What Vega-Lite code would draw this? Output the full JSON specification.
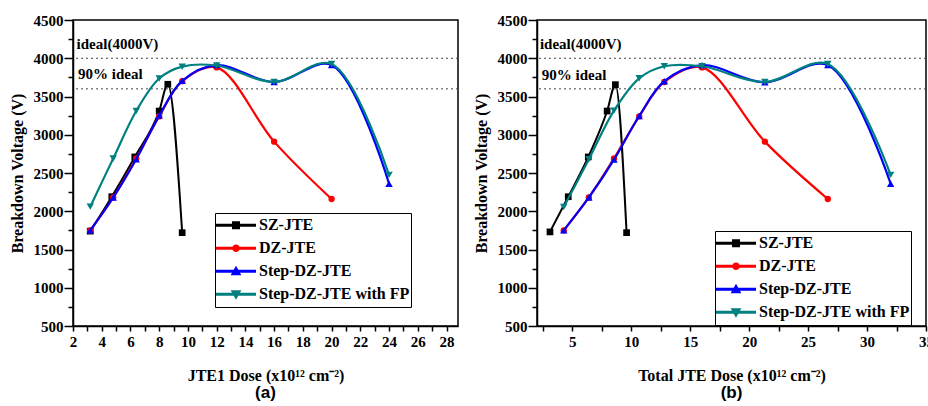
{
  "$schema": "https://vega.github.io/schema/vega-lite/v6.json",
  "padding": {"left": 8, "top": 12, "right": 0, "bottom": 0},
  "background": "white",
  "config": {
    "view": {"stroke": "black", "strokeWidth": 1.5},
    "font": "Liberation Serif",
    "axis": {
      "grid": false, "domainColor": "black", "tickColor": "black", "labelColor": "black", "titleColor": "black",
      "labelFont": "Liberation Serif", "titleFont": "Liberation Serif", "labelFontWeight": "bold", "titleFontWeight": "bold",
      "labelFontSize": 15, "titleFontSize": 16, "domainWidth": 1.5, "tickWidth": 1.5, "format": "d", "labelOverlap": false
    }
  },
  "datasets": {
    "a": [
      {"series": "SZ-JTE", "x": 3.2, "v": 1740}, {"series": "SZ-JTE", "x": 4.7, "v": 2190}, {"series": "SZ-JTE", "x": 6.3, "v": 2710},
      {"series": "SZ-JTE", "x": 8.0, "v": 3310}, {"series": "SZ-JTE", "x": 8.6, "v": 3660}, {"series": "SZ-JTE", "x": 9.6, "v": 1720},
      {"series": "DZ-JTE", "x": 3.2, "v": 1750}, {"series": "DZ-JTE", "x": 4.8, "v": 2180}, {"series": "DZ-JTE", "x": 6.4, "v": 2690},
      {"series": "DZ-JTE", "x": 8.0, "v": 3240}, {"series": "DZ-JTE", "x": 9.6, "v": 3700}, {"series": "DZ-JTE", "x": 12, "v": 3880},
      {"series": "DZ-JTE", "x": 16, "v": 2910}, {"series": "DZ-JTE", "x": 20, "v": 2160},
      {"series": "Step-DZ-JTE", "x": 3.2, "v": 1750}, {"series": "Step-DZ-JTE", "x": 4.8, "v": 2180}, {"series": "Step-DZ-JTE", "x": 6.4, "v": 2680},
      {"series": "Step-DZ-JTE", "x": 8.0, "v": 3250}, {"series": "Step-DZ-JTE", "x": 9.6, "v": 3705}, {"series": "Step-DZ-JTE", "x": 12, "v": 3910},
      {"series": "Step-DZ-JTE", "x": 16, "v": 3690}, {"series": "Step-DZ-JTE", "x": 20, "v": 3910}, {"series": "Step-DZ-JTE", "x": 24, "v": 2360},
      {"series": "Step-DZ-JTE with FP", "x": 3.2, "v": 2060}, {"series": "Step-DZ-JTE with FP", "x": 4.8, "v": 2690}, {"series": "Step-DZ-JTE with FP", "x": 6.4, "v": 3310},
      {"series": "Step-DZ-JTE with FP", "x": 8.0, "v": 3735}, {"series": "Step-DZ-JTE with FP", "x": 9.6, "v": 3890}, {"series": "Step-DZ-JTE with FP", "x": 12, "v": 3905},
      {"series": "Step-DZ-JTE with FP", "x": 16, "v": 3690}, {"series": "Step-DZ-JTE with FP", "x": 20, "v": 3925}, {"series": "Step-DZ-JTE with FP", "x": 24, "v": 2475}
    ],
    "b": [
      {"series": "SZ-JTE", "x": 3.1, "v": 1730}, {"series": "SZ-JTE", "x": 4.65, "v": 2190}, {"series": "SZ-JTE", "x": 6.35, "v": 2710},
      {"series": "SZ-JTE", "x": 7.95, "v": 3310}, {"series": "SZ-JTE", "x": 8.65, "v": 3655}, {"series": "SZ-JTE", "x": 9.6, "v": 1720},
      {"series": "DZ-JTE", "x": 4.27, "v": 1750}, {"series": "DZ-JTE", "x": 6.4, "v": 2180}, {"series": "DZ-JTE", "x": 8.53, "v": 2690},
      {"series": "DZ-JTE", "x": 10.67, "v": 3240}, {"series": "DZ-JTE", "x": 12.8, "v": 3690}, {"series": "DZ-JTE", "x": 16, "v": 3880},
      {"series": "DZ-JTE", "x": 21.33, "v": 2910}, {"series": "DZ-JTE", "x": 26.67, "v": 2160},
      {"series": "Step-DZ-JTE", "x": 4.27, "v": 1750}, {"series": "Step-DZ-JTE", "x": 6.4, "v": 2180}, {"series": "Step-DZ-JTE", "x": 8.53, "v": 2675},
      {"series": "Step-DZ-JTE", "x": 10.67, "v": 3245}, {"series": "Step-DZ-JTE", "x": 12.8, "v": 3700}, {"series": "Step-DZ-JTE", "x": 16, "v": 3910},
      {"series": "Step-DZ-JTE", "x": 21.33, "v": 3685}, {"series": "Step-DZ-JTE", "x": 26.67, "v": 3910}, {"series": "Step-DZ-JTE", "x": 32, "v": 2360},
      {"series": "Step-DZ-JTE with FP", "x": 4.27, "v": 2055}, {"series": "Step-DZ-JTE with FP", "x": 6.4, "v": 2680}, {"series": "Step-DZ-JTE with FP", "x": 8.53, "v": 3315},
      {"series": "Step-DZ-JTE with FP", "x": 10.67, "v": 3738}, {"series": "Step-DZ-JTE with FP", "x": 12.8, "v": 3895}, {"series": "Step-DZ-JTE with FP", "x": 16, "v": 3895},
      {"series": "Step-DZ-JTE with FP", "x": 21.33, "v": 3690}, {"series": "Step-DZ-JTE with FP", "x": 26.67, "v": 3925}, {"series": "Step-DZ-JTE with FP", "x": 32, "v": 2475}
    ],
    "refs": [{"v": 4000}, {"v": 3600}],
    "notesA": [{"x": 2.25, "v": 4190, "label": "ideal(4000V)"}, {"x": 2.35, "v": 3790, "label": "90% ideal"}],
    "notesB": [{"x": 2.25, "v": 4180, "label": "ideal(4000V)"}, {"x": 2.4, "v": 3785, "label": "90% ideal"}]
  },
  "spacing": 12,
  "resolve": {"scale": {"x": "independent", "y": "independent", "color": "independent", "shape": "independent"}},
  "hconcat": [
    {
      "width": 385, "height": 306,
      "title": {"text": "(a)", "orient": "bottom", "font": "Liberation Sans", "fontSize": 17, "fontWeight": "bold", "color": "black", "offset": 2, "anchor": "middle"},
      "layer": [
        {"data": {"name": "refs"}, "mark": {"type": "rule", "strokeDash": [2, 3], "color": "#444", "strokeWidth": 1},
         "encoding": {"y": {"field": "v", "type": "quantitative", "scale": {"domain": [500, 4500], "nice": false, "zero": false},
              "axis": {"title": "Breakdown Voltage (V)", "values": [500,750,1000,1250,1500,1750,2000,2250,2500,2750,3000,3250,3500,3750,4000,4250,4500], "labelExpr": "datum.value % 500 === 0 ? datum.label : ''", "labelOverlap": false, "tickSize": {"condition": {"test": "datum.value % 500 === 0", "value": 9}, "value": 5}, "labelPadding": 1, "titlePadding": 8, "labelFlush": false}}}},
        {
          "encoding": {
            "x": {"field": "x", "type": "quantitative", "scale": {"domain": [2, 28.8], "nice": false, "zero": false},
                  "axis": {"title": "JTE1 Dose (x10¹² cm⁻²)", "values": [2,3,4,5,6,7,8,9,10,11,12,13,14,15,16,17,18,19,20,21,22,23,24,25,26,27,28], "labelExpr": "datum.value % 2 === 0 ? datum.label : ''", "labelOverlap": false, "tickSize": 5, "labelPadding": 3, "titlePadding": 18, "labelFlush": false}},
            "y": {"field": "v", "type": "quantitative", "scale": {"domain": [500, 4500], "nice": false, "zero": false},
                  "axis": {"title": "Breakdown Voltage (V)", "values": [500,750,1000,1250,1500,1750,2000,2250,2500,2750,3000,3250,3500,3750,4000,4250,4500], "labelExpr": "datum.value % 500 === 0 ? datum.label : ''", "labelOverlap": false, "tickSize": {"condition": {"test": "datum.value % 500 === 0", "value": 9}, "value": 5}, "labelPadding": 1, "titlePadding": 8, "labelFlush": false}}
          },
          "layer": [
            {"data": {"name": "notesA"}, "mark": {"type": "text", "align": "left", "baseline": "middle", "font": "Liberation Serif", "fontWeight": "bold", "fontSize": 15, "color": "black"},
             "encoding": {"text": {"field": "label"}}},
            {"data": {"name": "a"}, "transform": [{"filter": "datum.series === 'SZ-JTE'"}],
             "mark": {"type": "line", "interpolate": "monotone", "strokeWidth": 2, "color": "#000000"}, "encoding": {}},
            {"data": {"name": "a"}, "transform": [{"filter": "datum.series === 'SZ-JTE'"}],
             "mark": {"type": "point", "shape": "square", "filled": true, "opacity": 1, "size": 45, "color": "#000000"}, "encoding": {}},
            {"data": {"name": "a"}, "transform": [{"filter": "datum.series === 'DZ-JTE'"}],
             "mark": {"type": "line", "interpolate": "catmull-rom", "strokeWidth": 2.2, "color": "#ff0000"}, "encoding": {}},
            {"data": {"name": "a"}, "transform": [{"filter": "datum.series === 'DZ-JTE'"}],
             "mark": {"type": "point", "shape": "circle", "filled": true, "opacity": 1, "size": 40, "color": "#ff0000"}, "encoding": {}},
            {"data": {"name": "a"}, "transform": [{"filter": "datum.series === 'Step-DZ-JTE'"}],
             "mark": {"type": "line", "interpolate": "catmull-rom", "strokeWidth": 2.2, "color": "#0000ff"}, "encoding": {}},
            {"data": {"name": "a"}, "transform": [{"filter": "datum.series === 'Step-DZ-JTE'"}],
             "mark": {"type": "point", "shape": "triangle-up", "filled": true, "opacity": 1, "size": 55, "color": "#0000ff"}, "encoding": {}},
            {"data": {"name": "a"}, "transform": [{"filter": "datum.series === 'Step-DZ-JTE with FP'"}],
             "mark": {"type": "line", "interpolate": "catmull-rom", "strokeWidth": 2.2, "color": "#008080"}, "encoding": {}},
            {"data": {"name": "a"}, "transform": [{"filter": "datum.series === 'Step-DZ-JTE with FP'"}],
             "mark": {"type": "point", "shape": "triangle-down", "filled": true, "opacity": 1, "size": 55, "color": "#008080"}, "encoding": {}},
            {"data": {"name": "a"}, "transform": [{"filter": "datum.v < 0"}],
             "mark": {"type": "point", "filled": true, "opacity": 1},
             "encoding": {
               "color": {"field": "series", "type": "nominal", "scale": {"domain": ["SZ-JTE", "DZ-JTE", "Step-DZ-JTE", "Step-DZ-JTE with FP"], "range": ["#000000", "#ff0000", "#0000ff", "#008080"]},
                         "legend": {"title": null, "orient": "none", "legendX": 142, "legendY": 193, "strokeColor": "black", "fillColor": "white", "padding": 1,
                                    "labelFont": "Liberation Serif", "labelFontWeight": "bold", "labelFontSize": 16, "labelColor": "black", "labelOffset": 3,
                                    "symbolSize": 1600, "clipHeight": 22.5, "rowPadding": 0, "symbolStrokeWidth": 0}},
               "shape": {"field": "series", "type": "nominal", "scale": {"domain": ["SZ-JTE", "DZ-JTE", "Step-DZ-JTE", "Step-DZ-JTE with FP"], "range": ["M-1,-0.07H1V0.07H-1ZM-0.2,-0.2H0.2V0.2H-0.2Z", "M-1,-0.07H1V0.07H-1ZM-0.19,0A0.19,0.19,0,1,1,0.19,0A0.19,0.19,0,1,1,-0.19,0Z", "M-1,-0.07H1V0.07H-1ZM0,-0.27L0.27,0.2L-0.27,0.2Z", "M-1,-0.07H1V0.07H-1ZM0,0.27L-0.27,-0.2L0.27,-0.2Z"]},
                         "legend": {"title": null, "orient": "none", "legendX": 142, "legendY": 193, "strokeColor": "black", "fillColor": "white", "padding": 1,
                                    "labelFont": "Liberation Serif", "labelFontWeight": "bold", "labelFontSize": 16, "labelColor": "black", "labelOffset": 3,
                                    "symbolSize": 1600, "clipHeight": 22.5, "rowPadding": 0, "symbolStrokeWidth": 0}}
             }}
          ]
        }
      ]
    },
    {
      "width": 389, "height": 306,
      "title": {"text": "(b)", "orient": "bottom", "font": "Liberation Sans", "fontSize": 17, "fontWeight": "bold", "color": "black", "offset": 2, "anchor": "middle"},
      "layer": [
        {"data": {"name": "refs"}, "mark": {"type": "rule", "strokeDash": [2, 3], "color": "#444", "strokeWidth": 1},
         "encoding": {"y": {"field": "v", "type": "quantitative", "scale": {"domain": [500, 4500], "nice": false, "zero": false},
              "axis": {"title": "Breakdown Voltage (V)", "values": [500,750,1000,1250,1500,1750,2000,2250,2500,2750,3000,3250,3500,3750,4000,4250,4500], "labelExpr": "datum.value % 500 === 0 ? datum.label : ''", "labelOverlap": false, "tickSize": {"condition": {"test": "datum.value % 500 === 0", "value": 9}, "value": 5}, "labelPadding": 1, "titlePadding": 8, "labelFlush": false}}}},
        {
          "encoding": {
            "x": {"field": "x", "type": "quantitative", "scale": {"domain": [2, 35], "nice": false, "zero": false},
                  "axis": {"title": "Total JTE Dose (x10¹² cm⁻²)", "values": [2.5,5,7.5,10,12.5,15,17.5,20,22.5,25,27.5,30,32.5,35], "labelExpr": "datum.value % 5 === 0 ? datum.label : ''", "labelOverlap": false, "tickSize": 5, "labelPadding": 3, "titlePadding": 18, "labelFlush": false}},
            "y": {"field": "v", "type": "quantitative", "scale": {"domain": [500, 4500], "nice": false, "zero": false},
                  "axis": {"title": "Breakdown Voltage (V)", "values": [500,750,1000,1250,1500,1750,2000,2250,2500,2750,3000,3250,3500,3750,4000,4250,4500], "labelExpr": "datum.value % 500 === 0 ? datum.label : ''", "labelOverlap": false, "tickSize": {"condition": {"test": "datum.value % 500 === 0", "value": 9}, "value": 5}, "labelPadding": 1, "titlePadding": 8, "labelFlush": false}}
          },
          "layer": [
            {"data": {"name": "notesB"}, "mark": {"type": "text", "align": "left", "baseline": "middle", "font": "Liberation Serif", "fontWeight": "bold", "fontSize": 15, "color": "black"},
             "encoding": {"text": {"field": "label"}}},
            {"data": {"name": "b"}, "transform": [{"filter": "datum.series === 'SZ-JTE'"}],
             "mark": {"type": "line", "interpolate": "monotone", "strokeWidth": 2, "color": "#000000"}, "encoding": {}},
            {"data": {"name": "b"}, "transform": [{"filter": "datum.series === 'SZ-JTE'"}],
             "mark": {"type": "point", "shape": "square", "filled": true, "opacity": 1, "size": 45, "color": "#000000"}, "encoding": {}},
            {"data": {"name": "b"}, "transform": [{"filter": "datum.series === 'DZ-JTE'"}],
             "mark": {"type": "line", "interpolate": "catmull-rom", "strokeWidth": 2.2, "color": "#ff0000"}, "encoding": {}},
            {"data": {"name": "b"}, "transform": [{"filter": "datum.series === 'DZ-JTE'"}],
             "mark": {"type": "point", "shape": "circle", "filled": true, "opacity": 1, "size": 40, "color": "#ff0000"}, "encoding": {}},
            {"data": {"name": "b"}, "transform": [{"filter": "datum.series === 'Step-DZ-JTE'"}],
             "mark": {"type": "line", "interpolate": "catmull-rom", "strokeWidth": 2.2, "color": "#0000ff"}, "encoding": {}},
            {"data": {"name": "b"}, "transform": [{"filter": "datum.series === 'Step-DZ-JTE'"}],
             "mark": {"type": "point", "shape": "triangle-up", "filled": true, "opacity": 1, "size": 55, "color": "#0000ff"}, "encoding": {}},
            {"data": {"name": "b"}, "transform": [{"filter": "datum.series === 'Step-DZ-JTE with FP'"}],
             "mark": {"type": "line", "interpolate": "catmull-rom", "strokeWidth": 2.2, "color": "#008080"}, "encoding": {}},
            {"data": {"name": "b"}, "transform": [{"filter": "datum.series === 'Step-DZ-JTE with FP'"}],
             "mark": {"type": "point", "shape": "triangle-down", "filled": true, "opacity": 1, "size": 55, "color": "#008080"}, "encoding": {}},
            {"data": {"name": "b"}, "transform": [{"filter": "datum.v < 0"}],
             "mark": {"type": "point", "filled": true, "opacity": 1},
             "encoding": {
               "color": {"field": "series", "type": "nominal", "scale": {"domain": ["SZ-JTE", "DZ-JTE", "Step-DZ-JTE", "Step-DZ-JTE with FP"], "range": ["#000000", "#ff0000", "#0000ff", "#008080"]},
                         "legend": {"title": null, "orient": "none", "legendX": 178, "legendY": 211, "strokeColor": "black", "fillColor": "white", "padding": 1,
                                    "labelFont": "Liberation Serif", "labelFontWeight": "bold", "labelFontSize": 16, "labelColor": "black", "labelOffset": 3,
                                    "symbolSize": 1600, "clipHeight": 22.5, "rowPadding": 0, "symbolStrokeWidth": 0}},
               "shape": {"field": "series", "type": "nominal", "scale": {"domain": ["SZ-JTE", "DZ-JTE", "Step-DZ-JTE", "Step-DZ-JTE with FP"], "range": ["M-1,-0.07H1V0.07H-1ZM-0.2,-0.2H0.2V0.2H-0.2Z", "M-1,-0.07H1V0.07H-1ZM-0.19,0A0.19,0.19,0,1,1,0.19,0A0.19,0.19,0,1,1,-0.19,0Z", "M-1,-0.07H1V0.07H-1ZM0,-0.27L0.27,0.2L-0.27,0.2Z", "M-1,-0.07H1V0.07H-1ZM0,0.27L-0.27,-0.2L0.27,-0.2Z"]},
                         "legend": {"title": null, "orient": "none", "legendX": 178, "legendY": 211, "strokeColor": "black", "fillColor": "white", "padding": 1,
                                    "labelFont": "Liberation Serif", "labelFontWeight": "bold", "labelFontSize": 16, "labelColor": "black", "labelOffset": 3,
                                    "symbolSize": 1600, "clipHeight": 22.5, "rowPadding": 0, "symbolStrokeWidth": 0}}
             }}
          ]
        }
      ]
    }
  ]
}
